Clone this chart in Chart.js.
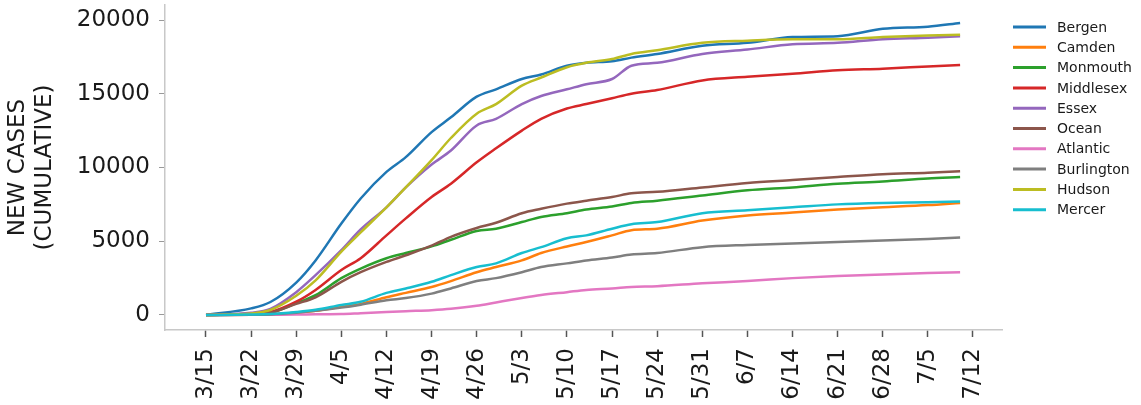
<!DOCTYPE html>
<html>
<head>
<meta charset="utf-8">
<script src="https://cdn.jsdelivr.net/npm/chart.js@4.4.1/dist/chart.umd.min.js"></script>
<style>
  html, body { margin: 0; padding: 0; background: #fff; }
  #wrap { width: 1141px; height: 405px; }
</style>
</head>
<body>
<div id="wrap"><canvas id="chart" width="1141" height="405"></canvas></div>
<script>
// days since 3/15
const days = [0, 7, 10, 14, 17, 21, 24, 28, 31, 35, 38, 42, 45, 49, 52, 56, 59, 63, 66, 70, 77, 84, 91, 98, 105, 112, 117];

const counties = ['Bergen', 'Camden', 'Monmouth', 'Middlesex', 'Essex', 'Ocean', 'Atlantic', 'Burlington', 'Hudson', 'Mercer'];
const colors = ['#1f77b4', '#ff7f0e', '#2ca02c', '#d62728', '#9467bd', '#8c564b', '#e377c2', '#7f7f7f', '#bcbd22', '#17becf'];

const bergen = [0, 450, 880, 2200, 3700, 6200, 7900, 9700, 10700, 12400, 13400, 14800, 15300, 16000, 16300, 16900, 17100, 17200, 17450, 17700, 18250, 18450, 18850, 18900, 19400, 19550, 19800];
const camden = [0, 20, 40, 150, 280, 550, 750, 1200, 1500, 1900, 2300, 2900, 3250, 3700, 4200, 4650, 4950, 5400, 5750, 5850, 6400, 6750, 6950, 7150, 7300, 7450, 7600];
const monmouth = [0, 50, 150, 800, 1350, 2500, 3150, 3850, 4200, 4650, 5100, 5700, 5850, 6300, 6650, 6900, 7150, 7350, 7600, 7750, 8100, 8450, 8650, 8900, 9050, 9250, 9350];
const middlesex = [0, 80, 200, 900, 1700, 3050, 3850, 5400, 6550, 8000, 8900, 10350, 11300, 12500, 13300, 14000, 14300, 14700, 15000, 15250, 15900, 16150, 16350, 16600, 16700, 16850, 16950];
const essex = [0, 150, 420, 1550, 2700, 4400, 5800, 7300, 8650, 10200, 11150, 12850, 13300, 14300, 14850, 15300, 15650, 16000, 16900, 17100, 17700, 18000, 18350, 18450, 18700, 18800, 18900];
const ocean = [0, 50, 150, 750, 1200, 2250, 2900, 3600, 4050, 4700, 5300, 5900, 6250, 6900, 7200, 7550, 7750, 8000, 8250, 8350, 8650, 8950, 9150, 9350, 9550, 9650, 9750];
const atlantic = [0, 10, 20, 30, 45, 60, 120, 200, 260, 330, 420, 620, 850, 1150, 1350, 1550, 1700, 1800, 1900, 1950, 2150, 2300, 2500, 2650, 2750, 2850, 2900];
const burlington = [0, 20, 40, 150, 280, 500, 700, 1000, 1150, 1450, 1800, 2300, 2500, 2900, 3250, 3500, 3700, 3900, 4100, 4200, 4600, 4750, 4850, 4950, 5050, 5150, 5250];
const hudson = [0, 100, 340, 1300, 2350, 4300, 5600, 7300, 8650, 10500, 12000, 13650, 14300, 15550, 16100, 16800, 17100, 17350, 17700, 17950, 18450, 18600, 18700, 18700, 18850, 18950, 19000];
const mercer = [0, 30, 60, 200, 350, 680, 900, 1500, 1800, 2250, 2700, 3250, 3500, 4200, 4600, 5200, 5400, 5850, 6150, 6300, 6900, 7100, 7300, 7500, 7600, 7650, 7700];

const seriesValues = [bergen, camden, monmouth, middlesex, essex, ocean, atlantic, burlington, hudson, mercer];

const xTickDays = [0, 7, 14, 21, 28, 35, 42, 49, 56, 63, 70, 77, 84, 91, 98, 105, 112, 119];
const xTickLabels = ['3/15', '3/22', '3/29', '4/5', '4/12', '4/19', '4/26', '5/3', '5/10', '5/17', '5/24', '5/31', '6/7', '6/14', '6/21', '6/28', '7/5', '7/12'];
const yTicks = [0, 5000, 10000, 15000, 20000];

const FONT = "'DejaVu Sans', sans-serif";

const datasets = counties.map((name, i) => ({
  label: name,
  data: days.map((d, j) => ({ x: d, y: seriesValues[i][j] })),
  borderColor: colors[i],
  backgroundColor: colors[i],
  borderWidth: 2.5,
  pointRadius: 0,
  cubicInterpolationMode: 'monotone',
  order: counties.length - i   // later series drawn on top, like the original
}));

// simple legend drawn at the right side
const sideLegend = {
  id: 'sideLegend',
  afterDraw(chart) {
    const ctx = chart.ctx;
    ctx.save();
    ctx.font = '14px ' + FONT;
    ctx.textBaseline = 'middle';
    chart.data.datasets.forEach((ds, i) => {
      const y = 27 + i * 20.3;
      ctx.strokeStyle = ds.borderColor;
      ctx.lineWidth = 3;
      ctx.beginPath();
      ctx.moveTo(1013, y);
      ctx.lineTo(1046, y);
      ctx.stroke();
      ctx.fillStyle = '#1a1a1a';
      ctx.fillText(ds.label, 1057, y + 1);
    });
    ctx.restore();
  }
};

new Chart(document.getElementById('chart'), {
  type: 'line',
  data: { datasets },
  options: {
    responsive: false,
    animation: false,
    events: [],
    layout: { padding: { top: 5, right: 139, left: 0, bottom: 0 } },
    plugins: {
      legend: { display: false },
      tooltip: { enabled: false }
    },
    scales: {
      x: {
        type: 'linear',
        min: -6.36,
        max: 123.5,
        afterBuildTicks: (scale) => { scale.ticks = xTickDays.map(v => ({ value: v })); },
        afterFit: (scale) => { scale.height = 75; scale.paddingLeft = 0; scale.paddingRight = 0; },
        ticks: {
          autoSkip: false,
          minRotation: 90,
          maxRotation: 90,
          padding: 11,
          color: '#1a1a1a',
          font: { family: FONT, size: 23 },
          callback: (v) => xTickLabels[xTickDays.indexOf(v)]
        },
        grid: { display: true, drawOnChartArea: false, drawTicks: true, tickLength: 7, tickColor: '#555', tickWidth: 1.5 },
        border: { display: true, color: '#c8c8c8', width: 1.5 }
      },
      y: {
        min: -1017,
        max: 21017,
        afterBuildTicks: (scale) => { scale.ticks = yTicks.map(v => ({ value: v })); },
        afterFit: (scale) => { scale.width = 165; scale.paddingTop = 0; scale.paddingBottom = 0; },
        ticks: {
          padding: 9,
          color: '#1a1a1a',
          font: { family: FONT, size: 23 },
          callback: (v) => String(v)
        },
        grid: { display: true, drawOnChartArea: false, drawTicks: true, tickLength: 6, tickColor: '#999', tickWidth: 1 },
        border: { display: true, color: '#c8c8c8', width: 1.5 },
        title: {
          display: true,
          text: ['NEW CASES', '(CUMULATIVE)'],
          color: '#1a1a1a',
          font: { family: FONT, size: 23 },
          padding: { top: 4, bottom: 0 }
        }
      }
    }
  },
  plugins: [sideLegend]
});
</script>
</body>
</html>
